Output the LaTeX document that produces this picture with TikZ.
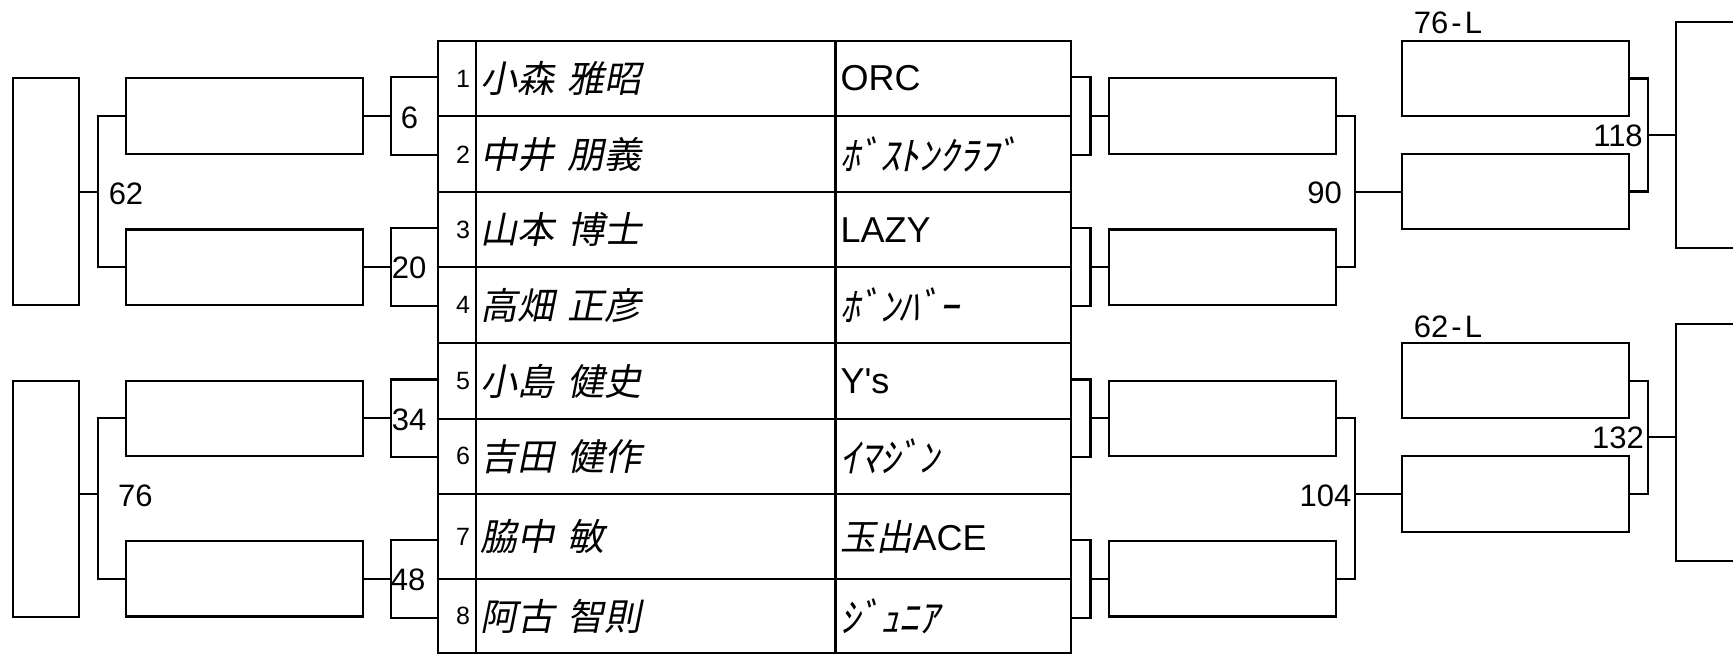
\documentclass[tikz,border=0pt]{standalone}
\usepackage{fontspec}
\setmainfont{Liberation Sans}[Ligatures=TeXOff]
\newfontfamily\jpit[FakeSlant=0.2]{Noto Sans CJK JP}
\newcommand\kana{\jpit\fontsize{19.8}{21}\selectfont}

\begin{document}
\begin{tikzpicture}[x=0.5pt, y=-0.5pt, line width=1.1pt,
  box/.style 2 args={draw, inner sep=0pt, minimum width=#1, minimum height=#2},
  numcell/.style={draw, minimum height=#1, inner xsep=2.8pt, inner ysep=0pt, text width=13.4pt, align=right, font=\fontsize{12.5}{14}\selectfont},
  namecell/.style={draw, minimum height=#1, inner xsep=2.5pt, inner ysep=0pt, text width=174.9pt, align=left, font=\fontsize{18.5}{20}\selectfont\jpit},
  teamcell/.style={draw, minimum height=#1, inner xsep=2.5pt, inner ysep=0pt, text width=112.75pt, align=left, font=\fontsize{18}{20}\selectfont},
  lbl/.style={inner sep=0pt, font=\fontsize{15.5}{17}\selectfont}]
  \useasboundingbox (0,0) rectangle (1733,660);
  \clip (0,0) rectangle (1733,660);

  % entry table
  \foreach \i/\c/\h/\nm/\tm in {
    1/78.5/37.8pt/{小森 雅昭}/{ORC},
    2/154.3/38pt/{中井 朋義}/{\kana ﾎﾞｽﾄﾝｸﾗﾌﾞ},
    3/229.8/37.5pt/{山本 博士}/{LAZY},
    4/305.3/38pt/{高畑 正彦}/{\kana ﾎﾞﾝﾊﾞｰ},
    5/381/37.7pt/{小島 健史}/{Y's},
    6/456.35/37.65pt/{吉田 健作}/{\kana ｲﾏｼﾞﾝ},
    7/536.65/42.65pt/{脇中 敏}/{{\jpit 玉出}ACE},
    8/616.3/37pt/{阿古 智則}/{\kana ｼﾞｭﾆｱ}} {
    \node[numcell=\h] (num\i) at (456.7,\c) {\i};
    \node[namecell=\h] (nm\i) at (655.6,\c) {\nm};
    \node[teamcell=\h] (tm\i) at (953.25,\c) {\tm};
  }

  % winners side
  \node[box={33.3pt}{113.35pt}] (w62) at (46,191.65) {};
  \node[box={33.3pt}{118pt}] (w76) at (46,498.7) {};
  \node[box={118.35pt}{37.7pt}] (w6) at (244.65,116) {};
  \node[box={118.35pt}{37.7pt}] (w20) at (244.65,267.15) {};
  \node[box={118.35pt}{37.7pt}] (w34) at (244.65,418.35) {};
  \node[box={118.35pt}{37.7pt}] (w48) at (244.65,578.85) {};

  \coordinate (b6) at (390.7,116);
  \coordinate (b20) at (390.7,267.15);
  \coordinate (b34) at (390.7,418.35);
  \coordinate (b48) at (390.7,578.85);
  \draw (w6.north -| num1.west) -| (b6) |- (w6.south -| num2.west);
  \draw (w20.north -| num3.west) -| (b20) |- (w20.south -| num4.west);
  \draw (w34.north -| num5.west) -| (b34) |- (w34.south -| num6.west);
  \draw (w48.north -| num7.west) -| (b48) |- (w48.south -| num8.west);
  \draw (w6.east) -- (b6);
  \draw (w20.east) -- (b20);
  \draw (w34.east) -- (b34);
  \draw (w48.east) -- (b48);

  \coordinate (b62) at (98.3,192.3);
  \coordinate (b76) at (98.3,494.3);
  \draw (w6.west) -| (b62) |- (w20.west);
  \draw (w34.west) -| (b76) |- (w48.west);
  \draw (b62) -- (b62 -| w62.east);
  \draw (b76) -- (b76 -| w76.east);

  \node[lbl] (t6) at (409.5,118) {6};
  \node[lbl] (t20) at (409,268) {20};
  \node[lbl] (t34) at (409,420) {34};
  \node[lbl] (t48) at (408,580) {48};
  \node[lbl] (t62) at (126,194) {62};
  \node[lbl] (t76) at (135.3,495.5) {76};

  % losers side
  \node[box={113.65pt}{37.7pt}] (lo6) at (1222.45,116) {};
  \node[box={113.65pt}{37.7pt}] (lo20) at (1222.45,267.15) {};
  \node[box={113.65pt}{37.7pt}] (lo34) at (1222.45,418.35) {};
  \node[box={113.65pt}{37.7pt}] (lo48) at (1222.45,578.85) {};

  \coordinate (c6) at (1090.5,116);
  \coordinate (c20) at (1090.5,267.15);
  \coordinate (c34) at (1090.5,418.35);
  \coordinate (c48) at (1090.5,578.85);
  \draw (lo6.north -| tm1.east) -| (c6) |- (lo6.south -| tm2.east);
  \draw (lo20.north -| tm3.east) -| (c20) |- (lo20.south -| tm4.east);
  \draw (lo34.north -| tm5.east) -| (c34) |- (lo34.south -| tm6.east);
  \draw (lo48.north -| tm7.east) -| (c48) |- (lo48.south -| tm8.east);
  \draw (c6) -- (lo6.west);
  \draw (c20) -- (lo20.west);
  \draw (c34) -- (lo34.west);
  \draw (c48) -- (lo48.west);

  \node[box={113.5pt}{37.8pt}] (r76L) at (1515.5,78.5) {};
  \node[box={113.5pt}{37.8pt}] (r90) at (1515.5,191.5) {};
  \node[box={113.5pt}{37.5pt}] (r62L) at (1515.5,380.8) {};
  \node[box={113.5pt}{37.85pt}] (r104) at (1515.5,493.85) {};

  \coordinate (b90) at (1354.9,192);
  \coordinate (b104) at (1354.9,494.3);
  \draw (lo6.east) -| (b90) |- (lo20.east);
  \draw (lo34.east) -| (b104) |- (lo48.east);
  \draw (b90) -- (b90 -| r90.west);
  \draw (b104) -- (b104 -| r104.west);

  \node[box={100pt}{113.3pt}] (f118) at (1776,135) {};
  \node[box={100pt}{118.35pt}] (f132) at (1776,442.35) {};

  \coordinate (b118) at (1647.6,135);
  \coordinate (b132) at (1647.6,437.3);
  \draw (r76L.east) -| (b118) |- (r90.east);
  \draw (r62L.east) -| (b132) |- (r104.east);
  \draw (b118) -- (b118 -| f118.west);
  \draw (b132) -- (b132 -| f132.west);

  \node[lbl] (t90) at (1324.5,193) {90};
  \node[lbl] (t104) at (1325.5,495.7) {104};
  \node[lbl] (t118) at (1618,136) {118};
  \node[lbl] (t132) at (1618,437.5) {132};
  \node[lbl] (t76L) at (1448,22.5) {76\kern1.5pt-\kern1.5pt L};
  \node[lbl] (t62L) at (1448,326.5) {62\kern1.5pt-\kern1.5pt L};
\end{tikzpicture}
\end{document}
